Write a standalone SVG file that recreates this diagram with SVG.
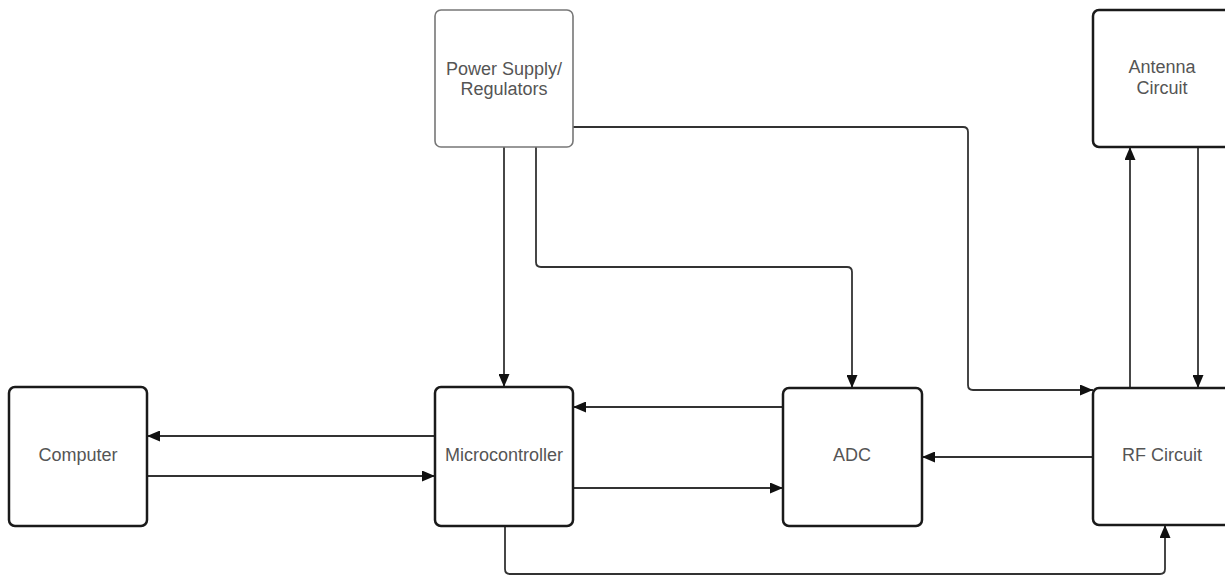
<svg xmlns="http://www.w3.org/2000/svg" width="1225" height="577" viewBox="0 0 1225 577">
<defs>
<marker id="ah" markerUnits="userSpaceOnUse" markerWidth="14" markerHeight="11" refX="13" refY="5.5" orient="auto">
<path d="M0,0 L13,5.5 L0,11 z" fill="#111"/>
</marker>
<style>
.box{fill:#fff;stroke:#1a1a1a;stroke-width:2.5}
.ps{fill:#fff;stroke:#777;stroke-width:1.6}
.lbl{font-family:"Liberation Sans",Arial,sans-serif;font-size:18px;fill:#555;text-anchor:middle}
.c{fill:none;stroke:#333;stroke-width:1.8;marker-end:url(#ah)}
</style>
</defs>
<rect width="1225" height="577" fill="#fff"/>
<g id="connectors">
<path class="c" d="M573,127 H963 Q968,127 968,132 V385 Q968,390 973,390 H1093"/>
<path class="c" d="M504,147 V387"/>
<path class="c" d="M536,147 V262 Q536,267 541,267 H847 Q852,267 852,272 V388"/>
<path class="c" d="M1130,388 V147"/>
<path class="c" d="M1198,147 V388"/>
<path class="c" d="M435,436 H147"/>
<path class="c" d="M147,476 H435"/>
<path class="c" d="M783,407 H573"/>
<path class="c" d="M573,488 H783"/>
<path class="c" d="M1093,457 H922"/>
<path class="c" d="M505,526 V569 Q505,574 510,574 H1160 Q1165,574 1165,569 V525"/>
</g>
<g id="power-supply">
<rect class="ps" x="435" y="10" width="138" height="137" rx="6"/>
<text class="lbl" x="504" y="75">Power Supply/</text>
<text class="lbl" x="504" y="95">Regulators</text>
</g>
<g id="antenna-circuit">
<rect class="box" x="1093" y="10" width="142" height="137" rx="6"/>
<text class="lbl" x="1162" y="73">Antenna</text>
<text class="lbl" x="1162" y="94">Circuit</text>
</g>
<g id="computer">
<rect class="box" x="9" y="387" width="138" height="139" rx="6"/>
<text class="lbl" x="78" y="461">Computer</text>
</g>
<g id="microcontroller">
<rect class="box" x="435" y="387" width="138" height="139" rx="6"/>
<text class="lbl" x="504" y="461">Microcontroller</text>
</g>
<g id="adc">
<rect class="box" x="783" y="388" width="139" height="138" rx="6"/>
<text class="lbl" x="852" y="461">ADC</text>
</g>
<g id="rf-circuit">
<rect class="box" x="1093" y="388" width="142" height="137" rx="6"/>
<text class="lbl" x="1162" y="461">RF Circuit</text>
</g>
</svg>
